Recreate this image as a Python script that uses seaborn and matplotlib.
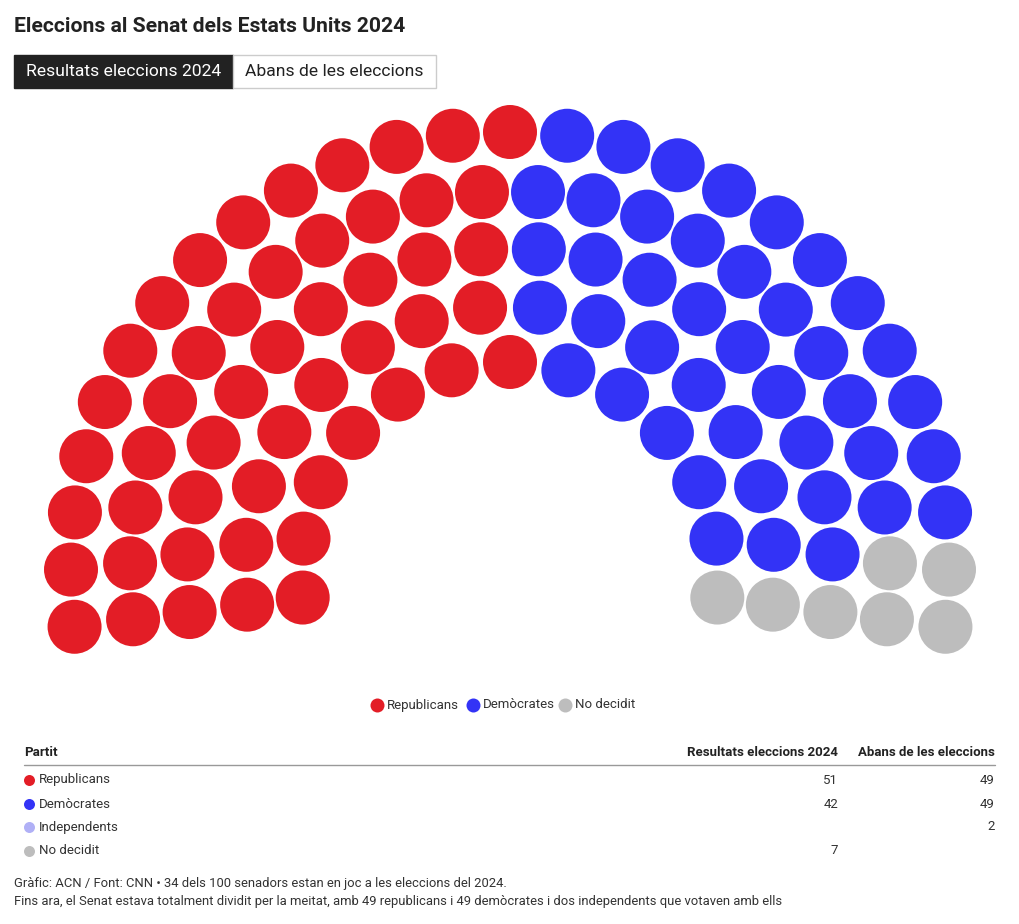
import numpy as np
import pandas as pd
import seaborn as sns
import matplotlib.pyplot as plt
from matplotlib.patches import Rectangle

# data
parties = ["Republicans", "Demòcrates", "No decidit"]
seats_2024 = [51, 42, 7]
party_colors = ["#e31d26", "#3333f6", "#bdbdbd"]

table_parties = ["Republicans", "Demòcrates", "Independents", "No decidit"]
table_colors = ["#e31d26", "#3333f6", "#b0b0f6", "#bdbdbd"]
results_2024 = ["51", "42", "", "7"]
before_election = ["49", "49", "2", ""]

# hemicycle layout (pixels)
row_seats = [27, 24, 20, 16, 13]
row_radius = [439, 380, 323, 265, 209]
cx, cy = 510, 571
over = 7.3  # degrees below horizontal at each end

rows = []
for n, r in zip(row_seats, row_radius):
    ang = np.linspace(180 + over, -over, n)
    for a in ang:
        rows.append((a, cx + r * np.cos(np.radians(a)), cy - r * np.sin(np.radians(a))))
seats = pd.DataFrame(rows, columns=["angle", "x", "y"])
seats = seats.sort_values(["angle", "x"], ascending=[False, True]).reset_index(drop=True)
seats["Partit"] = np.repeat(parties, seats_2024)

sns.set_style("white")
plt.rcParams["font.family"] = ["Roboto", "DejaVu Sans"]

fig = plt.figure(figsize=(10.2, 9.24), dpi=100)
ax = fig.add_axes([0, 0, 1, 1])

seat_d = 54 * 72 / 100  # diameter in points
sns.scatterplot(data=seats, x="x", y="y", hue="Partit", palette=party_colors,
                hue_order=parties, s=seat_d ** 2, linewidth=0, legend=False, ax=ax)
ax.set_xlim(0, 1020)
ax.set_ylim(924, 0)
ax.axis("off")

dark = "#222222"
ax.text(14, 27, "Eleccions al Senat dels Estats Units 2024", fontsize=15.2, fontweight="bold",
        color=dark, va="center")

# buttons
ax.add_patch(Rectangle((14, 55), 219, 33, facecolor=dark, edgecolor=dark, lw=1))
ax.add_patch(Rectangle((233, 55), 203, 33, facecolor="white", edgecolor="#cccccc", lw=1))
ax.text(123.5, 71.5, "Resultats eleccions 2024", fontsize=12.6, color="white", ha="center", va="center")
ax.text(334.5, 71.5, "Abans de les eleccions", fontsize=12.6, color=dark, ha="center", va="center")

# legend
leg_x = [377, 473, 565]
for lx, name, col in zip(leg_x, parties, party_colors):
    ax.scatter([lx], [705], s=(14 * 0.72) ** 2, color=col, linewidth=0)
    ax.text(lx + 10, 705, name, fontsize=9.5, color="#333333", va="center")

# table
ax.text(24, 752, "Partit", fontsize=9.5, fontweight="bold", color=dark, va="center")
ax.text(838, 752, "Resultats eleccions 2024", fontsize=9.5, fontweight="bold", color=dark,
        va="center", ha="right")
ax.text(995, 752, "Abans de les eleccions", fontsize=9.5, fontweight="bold", color=dark,
        va="center", ha="right")
ax.plot([24, 995], [765, 765], color="#999999", lw=1)
row_y = [780, 804, 827, 851]
for yy, name, col, v1, v2 in zip(row_y, table_parties, table_colors, results_2024, before_election):
    ax.scatter([29], [yy], s=(11 * 0.72) ** 2, color=col, linewidth=0)
    ax.text(39, yy, name, fontsize=9.5, color="#333333", va="center")
    ax.text(838, yy, v1, fontsize=9.5, color="#333333", va="center", ha="right")
    ax.text(995, yy, v2, fontsize=9.5, color="#333333", va="center", ha="right")

# footer
ax.text(14, 883, "Gràfic: ACN / Font: CNN • 34 dels 100 senadors estan en joc a les eleccions del 2024.",
        fontsize=9.35, color="#333333", va="center")
ax.text(14, 901, "Fins ara, el Senat estava totalment dividit per la meitat, amb 49 republicans i 49 demòcrates i dos independents que votaven amb ells",
        fontsize=9.35, color="#333333", va="center")

fig.savefig("out.png", dpi=100)
